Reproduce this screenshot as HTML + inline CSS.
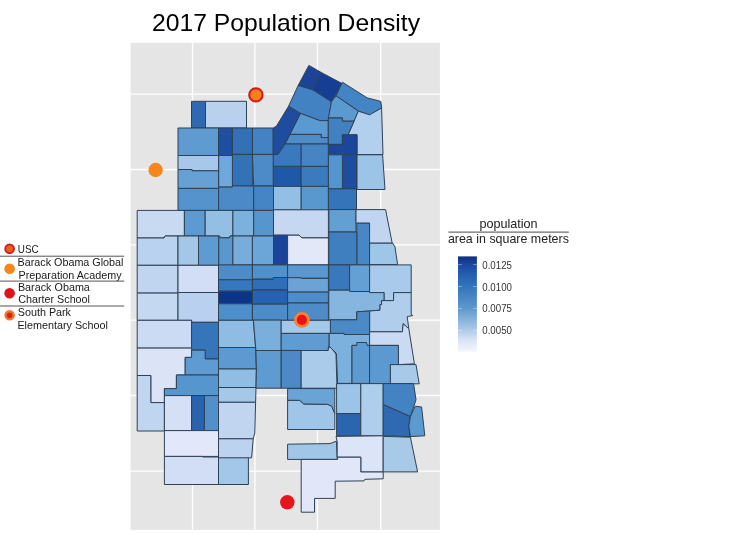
<!DOCTYPE html>
<html><head><meta charset="utf-8"><style>
html,body{margin:0;padding:0;background:#fff;}
body{width:750px;height:534px;overflow:hidden;position:relative;font-family:"Liberation Sans",sans-serif;}
svg{position:absolute;left:0;top:0;filter:blur(0.4px);}
svg text{font-family:"Liberation Sans",sans-serif;}
</style></head><body>
<svg width="750" height="534" viewBox="0 0 750 534">
<defs>
<linearGradient id="cb" x1="0" y1="0" x2="0" y2="1">
<stop offset="0" stop-color="#112d7c"/>
<stop offset="0.086" stop-color="#1a47a0"/>
<stop offset="0.2" stop-color="#2660b2"/>
<stop offset="0.316" stop-color="#3474bb"/>
<stop offset="0.546" stop-color="#5e98ce"/>
<stop offset="0.777" stop-color="#aecbe9"/>
<stop offset="0.88" stop-color="#dae4f5"/>
<stop offset="1" stop-color="#f3f5fc"/>
</linearGradient>
</defs>
<text x="152" y="31" font-size="24" textLength="268" lengthAdjust="spacingAndGlyphs" fill="#000">2017 Population Density</text>
<rect x="130.7" y="42.9" width="309.2" height="486.9" fill="#e5e5e5"/>
<g stroke="#ffffff" stroke-width="1.3"><line x1="192.5" y1="42.9" x2="192.5" y2="529.8"/><line x1="254.9" y1="42.9" x2="254.9" y2="529.8"/><line x1="317.4" y1="42.9" x2="317.4" y2="529.8"/><line x1="380.7" y1="42.9" x2="380.7" y2="529.8"/><line x1="130.7" y1="94.2" x2="439.9" y2="94.2"/><line x1="130.7" y1="169.5" x2="439.9" y2="169.5"/><line x1="130.7" y1="244.8" x2="439.9" y2="244.8"/><line x1="130.7" y1="320.1" x2="439.9" y2="320.1"/><line x1="130.7" y1="395.5" x2="439.9" y2="395.5"/><line x1="130.7" y1="471.1" x2="439.9" y2="471.1"/></g>
<g stroke="#2e4155" stroke-width="1.0" stroke-linejoin="round">
<polygon points="191.5,101.3 205.5,101.3 205.5,128 191.5,128" fill="#2e6ab2"/>
<polygon points="205.5,101.3 246.5,101.3 246.5,128 205.5,128" fill="#b9d0ee"/>
<polygon points="178,128 218.6,128 218.6,155.5 178,155.5" fill="#5f9ad0"/>
<polygon points="218.6,128 232.4,128 232.4,155.5 218.6,155.5" fill="#1e4fa0"/>
<polygon points="232.4,128 252.4,128 252.4,154.4 232.4,154.4" fill="#3370b6"/>
<polygon points="252.4,128 273.2,128 273.2,154.4 252.4,154.4" fill="#4383c3"/>
<polygon points="288.6,106.2 300.6,113.4 285.2,144 278,154.4 273.2,154.4 273.2,128 276.4,126.2" fill="#1f4c9f"/>
<polygon points="308.9,65.4 321.4,72.6 312.9,89.9 298.2,85.4" fill="#1b4499"/>
<polygon points="321.4,72.6 342.5,83.8 331.4,101.8 312.9,89.9" fill="#163e93"/>
<polygon points="298.2,85.4 312.9,89.9 331.4,101.8 330.4,107.8 328.8,118.2 328.6,120.6 319.8,120.6 300.6,113.4 288.6,106.2" fill="#4282c2"/>
<polygon points="300.6,113.4 319.8,120.6 328.3,120.6 328.3,137.6 321.2,137.6 321.2,134.4 290,134.4" fill="#5a9ad1"/>
<polygon points="290,134.4 321.2,134.4 321.2,137.6 328.3,137.6 328.3,144 285.2,144" fill="#4d8cc8"/>
<polygon points="342.4,82.2 367.2,97.9 380.8,101.4 381.6,107.8 369.6,115.5 358.4,111 336,95.8" fill="#4385c4"/>
<polygon points="336,95.8 358.4,111.2 354.1,121.2 342.4,121.2 342.4,118 328.3,118 330.4,107.8 331.4,101.8" fill="#5a9ad0"/>
<polygon points="358.4,111.2 369.6,114.8 381.6,108 383,154.5 357,154.5 357,134.8 348,134.8" fill="#b2cfee"/>
<polygon points="328.3,118 342.4,118 342.4,121.2 354.1,121.2 348,134.8 342.4,134.8 342.4,144.4 328.3,144.4" fill="#4181c1"/>
<polygon points="342.4,134.8 357,134.8 357,154.8 328.3,154.8 328.3,144.4 342.4,144.4" fill="#1c469c"/>
<polygon points="342.4,154.8 356.5,154.8 356.5,189 342.4,189" fill="#1e4d9f"/>
<polygon points="328.3,154.8 342.4,154.8 342.4,189 328.3,189" fill="#5595cd"/>
<polygon points="357,154.8 382.6,154.8 385,189.5 357,189.5" fill="#9cc4e7"/>
<polygon points="285.2,144 301.2,144 301.2,166.4 273.2,166.4 273.2,154.4 278,154.4" fill="#3b79bd"/>
<polygon points="301.2,144 328.3,144 328.3,166.4 301.2,166.4" fill="#4585c4"/>
<polygon points="273.2,166.4 301.2,166.4 301.2,186.4 273.2,186.4" fill="#2058a8"/>
<polygon points="301.2,166.4 328.3,166.4 328.3,186.4 301.2,186.4" fill="#3b7bbd"/>
<polygon points="232.4,154.4 252.4,154.4 252.4,185.8 232.4,185.8" fill="#3372b8"/>
<polygon points="252.4,154.4 273.2,154.4 273.2,186 253.7,186" fill="#4c8bc7"/>
<polygon points="218.6,155.5 232.4,155.5 232.4,187.1 218.6,187.1" fill="#6fa8da"/>
<polygon points="178,155.5 218.6,155.5 218.6,170.8 192,170.8 192,169.5 178,169.5" fill="#a7c8e8"/>
<polygon points="178,169.5 192,169.5 192,170.8 218.6,170.8 218.6,188.4 178,188.4" fill="#66a0d5"/>
<polygon points="178,188.4 218.6,188.4 218.6,210.4 178,210.4" fill="#5593cc"/>
<polygon points="218.6,187.1 232.4,187.1 232.4,185.8 253.7,186 253.7,210.4 218.6,210.4" fill="#4b8ac7"/>
<polygon points="253.7,186 273.5,186 273.5,210.4 253.7,210.4" fill="#4585c5"/>
<polygon points="273.5,186.4 301.2,186.4 301.2,209.8 273.5,209.8" fill="#93bfe5"/>
<polygon points="301.2,186.4 328.4,186.4 328.4,210.2 301.2,210.2" fill="#5898cf"/>
<polygon points="328.4,188.8 356.5,188.8 356.5,209.6 328.4,209.6" fill="#3574b8"/>
<polygon points="137.2,210.4 184.4,210.4 184.4,236 165,236 164,238 137.2,238" fill="#c8d9f2"/>
<polygon points="184.4,210.4 205.2,210.4 205.2,236 184.4,236" fill="#5c9ad1"/>
<polygon points="205.2,210.4 232.9,210.4 232.9,236 230,236 229.5,237.8 220,237.8 219.5,236 205.2,236" fill="#93bfe4"/>
<polygon points="232.9,210.4 253.7,210.4 253.7,236 232.9,236" fill="#7cb0dd"/>
<polygon points="253.7,210.4 273.5,210.4 273.5,236 253.7,236" fill="#5696ce"/>
<polygon points="273.5,209.8 328.4,209.8 328.4,237.9 302,237.9 299,235.2 273.5,235.2" fill="#c6d7f1"/>
<polygon points="328.8,209.6 356,209.6 356,232 328.8,232" fill="#62a0d4"/>
<polygon points="356,209.6 385.6,209.6 392.2,243.2 368,243.2 369.6,223.2 356,223.2" fill="#c1d5f0"/>
<polygon points="356.8,223.2 369.6,223.2 369.6,265 356.8,265" fill="#4887c6"/>
<polygon points="328.8,232 356.8,232 356.8,264.9 328.8,264.9" fill="#3f7fc0"/>
<polygon points="369.6,243.2 392.8,243.2 395,247 397.6,264.6 369.6,264.6" fill="#9ec6e8"/>
<polygon points="137.2,238 164,238 165,236 178,236 178,265.3 137.2,265.3" fill="#b9d2ef"/>
<polygon points="178,236 198.5,236 198.5,265.3 178,265.3" fill="#a4c7e8"/>
<polygon points="198.5,236 218.8,236 218.8,265.3 198.5,265.3" fill="#5e9bd2"/>
<polygon points="218.8,236 219.5,236 220,237.8 229.5,237.8 230,236 232.9,236 232.9,265.3 218.8,265.3" fill="#5998cf"/>
<polygon points="232.9,236 252.4,236 252.4,264.9 232.9,264.9" fill="#78addb"/>
<polygon points="252.4,236 273.5,236 273.5,264.9 252.4,264.9" fill="#6ca5d7"/>
<polygon points="273.5,235.2 287.6,235.2 287.6,264.9 273.5,264.9" fill="#1a449a"/>
<polygon points="287.6,235.2 299,235.2 302,237.9 328.4,237.9 328.4,264.9 287.6,264.9" fill="#e3e8f9"/>
<polygon points="137.2,265.3 178,265.3 178,293.1 137.2,293.1" fill="#c0d5ef"/>
<polygon points="178,265.3 218.5,265.3 218.5,292.5 178,292.5" fill="#d1def6"/>
<polygon points="137.2,293.1 178,293.1 178,320.3 137.2,320.3" fill="#c4d8f1"/>
<polygon points="178,292.5 218.5,292.5 218.5,322.3 191.6,322.3 191.6,320.3 178,320.3" fill="#b9d1ee"/>
<polygon points="218.5,264.9 252.4,264.9 252.4,279.8 218.5,279.8" fill="#4d8cc8"/>
<polygon points="218.5,279.8 252.4,279.8 252.4,291.2 218.5,291.2" fill="#3578bf"/>
<polygon points="218.5,291.2 252.4,291.2 252.4,303.8 218.5,303.8" fill="#0c3488"/>
<polygon points="218.5,303.8 252.4,303.8 252.4,320.3 218.5,320.3" fill="#4d8fca"/>
<polygon points="252.4,264.9 287.6,264.9 287.6,279 252.4,279" fill="#5191cb"/>
<polygon points="252.4,279.4 273.2,279.4 273.2,277.5 287.6,277.5 287.6,290 252.4,290" fill="#306eb8"/>
<polygon points="252.4,290 287.6,290 287.6,304.2 252.4,304.2" fill="#2762b0"/>
<polygon points="252.4,304.2 287.6,304.2 287.6,320.3 252.4,320.3" fill="#4d8cc8"/>
<polygon points="287.6,264.9 328.4,264.9 328.4,278.2 287.6,278.2" fill="#5a98cf"/>
<polygon points="287.6,277.7 301,277.7 301.5,278.4 328.4,278.4 328.4,292.1 287.6,292.1" fill="#6ba3d6"/>
<polygon points="287.6,292.1 328.4,292.1 328.4,303 287.6,303" fill="#4f8dc9"/>
<polygon points="287.6,303 328.4,303 328.4,320.3 287.6,320.3" fill="#4e8cc8"/>
<polygon points="328.8,264.9 349.6,264.9 349.6,290.2 328.8,290.2" fill="#3a78bc"/>
<polygon points="349.6,264.9 369.6,264.9 369.6,291.5 349.6,291.5" fill="#64a0d4"/>
<polygon points="369.6,264.9 411.2,264.9 411.2,292.6 393.6,292.6 393.6,300.6 384,300.6 384,292.6 369.6,292.6" fill="#a9caea"/>
<polygon points="328.8,290.2 349.6,290.2 349.6,291.5 369.6,291.5 369.6,292.6 384,292.6 384,300.6 381.6,300.6 381.6,304.6 380,304.6 380,310.2 369.6,311 356.8,311.8 356.8,319.8 328.8,319.8" fill="#86b6df"/>
<polygon points="393.6,292.6 411.2,292.6 411.2,314.2 412.8,315.5 407.2,316.6 408.8,328.6 403.2,323.8 402.4,331.8 369.6,331.8 369.6,311 380,310.2 380,304.6 381.6,304.6 381.6,300.6 384,300.6 393.6,300.6" fill="#b1cdec"/>
<polygon points="356.8,311.8 369.6,311 369.6,334.5 344,334.5 344,333.4 330.4,333.4 330.4,319.8 356.8,319.8" fill="#4b8ac7"/>
<polygon points="137.2,320.3 191.6,320.3 191.6,348.1 137.2,348.1" fill="#cbdbf4"/>
<polygon points="191.6,322.3 218.5,322.3 218.5,359 205.2,359 205.2,350.2 191.6,350.2" fill="#3775ba"/>
<polygon points="137.2,348.1 191.6,348.1 191.6,357.4 185.2,357.4 185.2,375 176.4,375 176.4,388.6 164.4,388.6 164.4,402.6 150.8,402.6 150.8,375.5 137.2,375.5" fill="#dbe4f7"/>
<polygon points="191.6,350.2 205.2,350.2 205.2,359 218.5,359 218.5,375 185.2,375 185.2,357.4 191.6,357.4" fill="#5d9bd2"/>
<polygon points="176.4,375 218.5,375 218.5,395.6 164.4,395.6 164.4,388.6 176.4,388.6" fill="#5596ce"/>
<polygon points="137.2,375.5 150.8,375.5 150.8,402.6 164.4,402.6 164.4,431 137.2,431" fill="#c0d5ef"/>
<polygon points="164.4,395.6 191.6,395.6 191.6,430.6 164.4,430.6" fill="#d5e0f6"/>
<polygon points="191.6,395.6 204.4,395.6 204.4,430.6 191.6,430.6" fill="#2a63ae"/>
<polygon points="204.4,395.6 218.5,395.6 218.5,430.6 204.4,430.6" fill="#5290cb"/>
<polygon points="164.4,430.6 218.5,430.6 218.5,456.4 164.4,456.4" fill="#e2e8f9"/>
<polygon points="164.4,456.4 202,456.4 203,457 218.5,457 218.5,484.5 164.4,484.5" fill="#d2def5"/>
<polygon points="218.5,457 248.4,457 248.4,484.5 218.5,484.5" fill="#a3c7e8"/>
<polygon points="218.5,320.3 253.4,320.3 255.6,347.5 218.5,347.5" fill="#8fbce3"/>
<polygon points="218.5,347.5 255.6,347.5 256.4,369 218.5,369" fill="#5c9ad1"/>
<polygon points="218.5,369 256.4,369 256,387.5 218.5,387.5" fill="#90bde3"/>
<polygon points="218.5,387.5 256,387.5 255.6,402.3 218.5,402.3" fill="#a6c8e8"/>
<polygon points="218.5,402.3 255.6,402.3 254.8,433 253.2,438.8 218.5,438.8" fill="#c1d5f0"/>
<polygon points="218.5,438.8 253.2,438.8 251.6,457.8 218.5,457.8" fill="#bcd2ef"/>
<polygon points="253.4,320.1 281.2,320.1 281.2,350.5 255.9,350.5" fill="#7aaedb"/>
<polygon points="255.9,350.5 281.2,350.5 281.2,388.2 256,388.2 256.4,369" fill="#5d9bd1"/>
<polygon points="281.2,320.3 330.4,320.3 330.4,333.4 281.2,333.4" fill="#a4c8e8"/>
<polygon points="281.2,333.4 329.2,333.4 329.2,346.6 328.4,346.8 328.2,350.5 281.2,350.5" fill="#5f9cd2"/>
<polygon points="281.2,350.4 301.2,350.4 301.2,388.2 281.2,388.2" fill="#4b8ac7"/>
<polygon points="301.2,350.5 328.2,350.5 328.6,346.8 331.3,348 336,354 337,388.2 301.2,388.2" fill="#abcbeb"/>
<polygon points="330.4,333.4 344,333.4 344,334.5 369.6,334.5 369.6,345.4 352,345.4 352,383.4 337.6,383.4 336.4,353.4 329.2,346.2 329.2,333.4" fill="#7cb0dd"/>
<polygon points="352,345.4 356.8,345.4 356.8,342.5 366.4,342.5 367.2,345.4 369.6,345.4 369.6,383.4 352,383.4" fill="#5c9ad1"/>
<polygon points="369.6,331.8 402.4,331.8 403.2,323.8 408.8,328.6 414.4,363.8 398.4,364.6 398.4,345.4 369.6,345.4" fill="#cadaf3"/>
<polygon points="369.6,345.4 398.4,345.4 398.4,364.6 390.4,364.6 390.4,383.8 369.6,383.8" fill="#5b99d0"/>
<polygon points="390.4,364.6 416,364.6 419.2,383.8 390.4,383.8" fill="#a8cae9"/>
<polygon points="336.6,383.6 360.8,383.6 360.8,413.6 336.6,413.6" fill="#9cc4e7"/>
<polygon points="336.6,413.6 360.8,413.6 360.8,435.8 336.6,435.8" fill="#2b65b0"/>
<polygon points="360.8,383.6 383.2,383.6 383.2,435.8 360.8,435.8" fill="#afceec"/>
<polygon points="383.2,383.6 413.6,383.6 416,399.8 410.4,416.6 383.2,404.6" fill="#4383c3"/>
<polygon points="383.2,404.6 410.4,416.6 408.8,426.2 410.4,436.6 383.2,435.8" fill="#2e69b2"/>
<polygon points="410.4,416.6 415.2,406.2 421.6,407 424.8,435.8 410.4,436.6 408.8,426.2" fill="#5b99d0"/>
<polygon points="287.6,388.6 334.8,388.6 334.8,413.8 331.6,406.3 327.4,404.4 303.8,404.2 299.6,400.4 287.6,400.4" fill="#6aa3d6"/>
<polygon points="287.6,400.4 299.6,400.4 303.8,404.2 327.4,404.4 331.6,406.3 334.8,413.8 334.8,429.5 287.6,429.5" fill="#9fc6e8"/>
<polygon points="287.6,444.2 330,443.6 336.4,441.2 337.2,459.4 287.6,459.4" fill="#a1c7e8"/>
<polygon points="336,436.4 383.2,435.8 383.2,472 360.8,472 360.8,457.2 337.2,457.2 337.2,442 336.8,440" fill="#dce4f7"/>
<polygon points="301.2,459.4 337.6,459.4 337.6,457.2 360.8,457.2 360.8,472 383.2,472 383.2,478.8 364.8,479.3 364,480.9 335.2,481.2 335.2,498.4 314.5,498.4 314.5,512.2 301.2,512.2" fill="#e2e6f9"/>
<polygon points="383.2,436.4 410.4,437.2 417.6,471.9 383.2,471.9" fill="#a8cae9"/>
</g>
<!-- points -->
<circle cx="255.9" cy="94.9" r="6.7" fill="#fb7d1c" stroke="#cc1a1a" stroke-width="2"/>
<circle cx="155.6" cy="170" r="7.2" fill="#f7861c"/>
<circle cx="301.9" cy="319.9" r="6.5" fill="#ee1111" stroke="#f5813a" stroke-width="2.8"/>
<circle cx="287.3" cy="502.3" r="7.2" fill="#e8141b"/>
<!-- left legend -->
<g font-size="10.4" fill="#1a1a1a">
<circle cx="9.6" cy="248.8" r="4.4" fill="#f25a1e" stroke="#c81e1e" stroke-width="1.8"/>
<text x="17.8" y="252.7" textLength="20.8" lengthAdjust="spacingAndGlyphs">USC</text>
<line x1="0" y1="256.2" x2="124.2" y2="256.2" stroke="#555" stroke-width="1"/>
<circle cx="9.6" cy="268.7" r="5.3" fill="#f5861e"/>
<text x="17.5" y="266.3" textLength="106" lengthAdjust="spacingAndGlyphs">Barack Obama Global</text>
<text x="18.6" y="278.5" textLength="103" lengthAdjust="spacingAndGlyphs">Preparation Academy</text>
<line x1="0" y1="281.1" x2="124.2" y2="281.1" stroke="#555" stroke-width="1"/>
<circle cx="9.6" cy="293.2" r="5.3" fill="#e0121e"/>
<text x="17.9" y="290.7" textLength="72" lengthAdjust="spacingAndGlyphs">Barack Obama</text>
<text x="18.2" y="303.4" textLength="71.8" lengthAdjust="spacingAndGlyphs">Charter School</text>
<line x1="0" y1="306" x2="124.2" y2="306" stroke="#555" stroke-width="1"/>
<circle cx="9.6" cy="315.3" r="4.1" fill="#e0201e" stroke="#f07a2a" stroke-width="2.4"/>
<text x="17.8" y="315.9" textLength="53.2" lengthAdjust="spacingAndGlyphs">South Park</text>
<text x="17.4" y="328.5" textLength="90.5" lengthAdjust="spacingAndGlyphs">Elementary School</text>
</g>
<!-- right legend -->
<g font-size="12.6" fill="#222">
<text x="479.4" y="227.9" textLength="58.2" lengthAdjust="spacingAndGlyphs">population</text>
<line x1="448.4" y1="232.1" x2="568.8" y2="232.1" stroke="#333" stroke-width="0.9"/>
<text x="447.9" y="242.5" textLength="121" lengthAdjust="spacingAndGlyphs">area in square meters</text>
</g>
<rect x="458" y="256.4" width="18.9" height="95.2" fill="url(#cb)"/>
<g stroke="#ffffff" stroke-width="0.7" opacity="0.55">
<line x1="458" y1="264.6" x2="461.8" y2="264.6"/><line x1="473.1" y1="264.6" x2="476.9" y2="264.6"/>
<line x1="458" y1="286.5" x2="461.8" y2="286.5"/><line x1="473.1" y1="286.5" x2="476.9" y2="286.5"/>
<line x1="458" y1="308.4" x2="461.8" y2="308.4"/><line x1="473.1" y1="308.4" x2="476.9" y2="308.4"/>
<line x1="458" y1="330.4" x2="461.8" y2="330.4"/><line x1="473.1" y1="330.4" x2="476.9" y2="330.4"/>
</g>
<g font-size="10" fill="#333">
<text x="482.3" y="268.6" textLength="29.6" lengthAdjust="spacingAndGlyphs">0.0125</text>
<text x="482.3" y="290.5" textLength="29.6" lengthAdjust="spacingAndGlyphs">0.0100</text>
<text x="482.3" y="312.4" textLength="29.6" lengthAdjust="spacingAndGlyphs">0.0075</text>
<text x="482.3" y="334.4" textLength="29.6" lengthAdjust="spacingAndGlyphs">0.0050</text>
</g>
</svg>
</body></html>
